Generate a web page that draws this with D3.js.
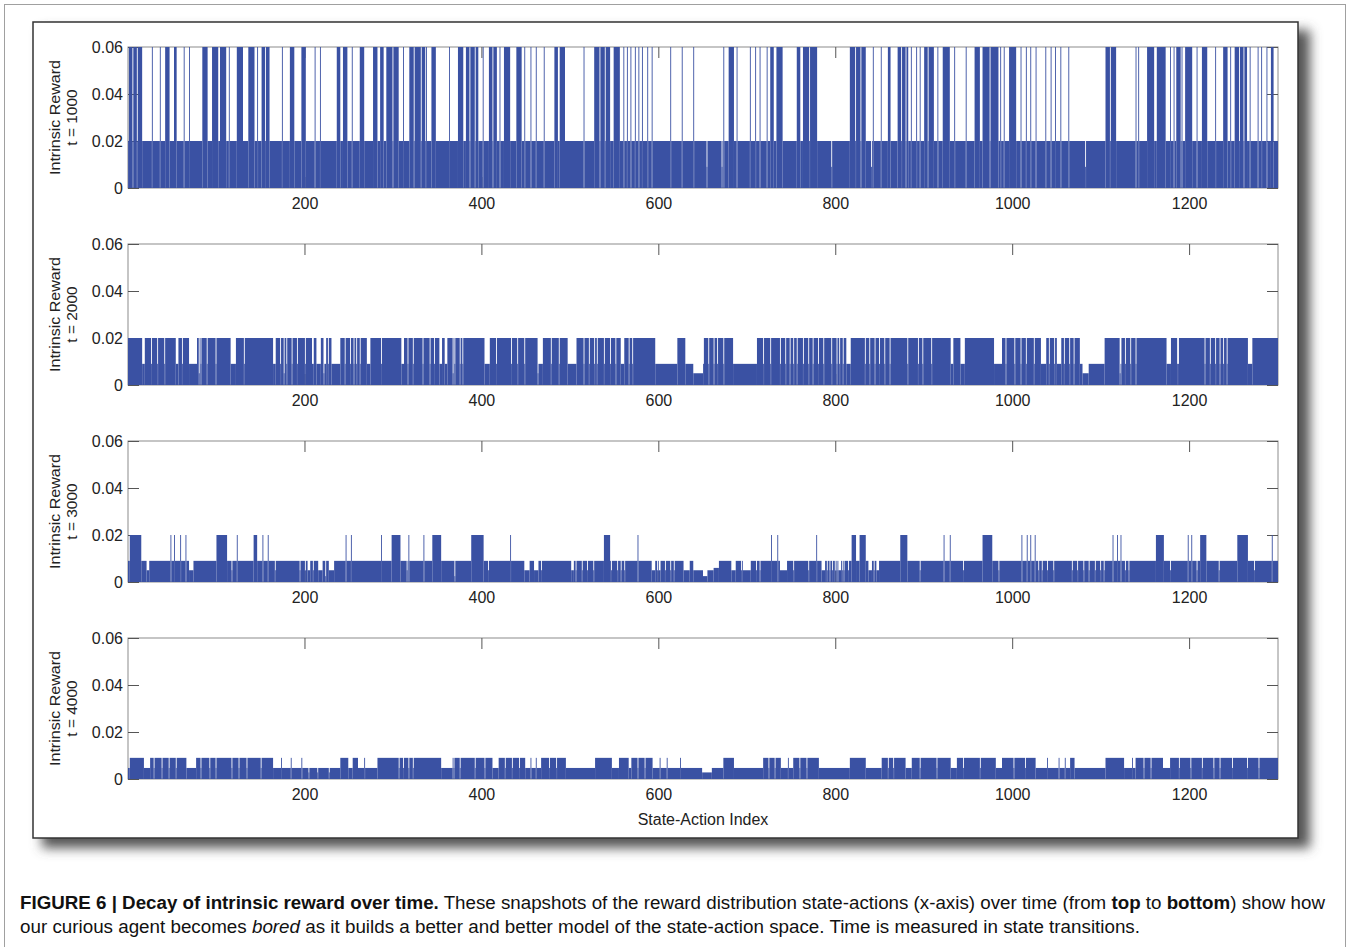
<!DOCTYPE html>
<html>
<head>
<meta charset="utf-8">
<script src="https://cdn.jsdelivr.net/npm/d3@7"></script>
<style>
  body { margin: 0; background: #fff; }
  svg { display: block; font-family: "Liberation Sans", Arial, Helvetica, sans-serif; }
</style>
</head>
<body>
<svg id="fig" width="1350" height="947"></svg>
<script>
// Number of state-action pairs on the x-axis
const N = 1300;
const xTicks = [200, 400, 600, 800, 1000, 1200];
const yTicks = [0, 0.02, 0.04, 0.06];
const panelTimes = [1000, 2000, 3000, 4000];

// Values. Each list holds state-action indices
// (single index or [from, to]) that sit at the given level.

// t = 1000: most states at 0.02, many spikes to 0.06
const p1Base = 0.02;
const p1High = [[2,5],[7,10],[12,16],28,37,[43,47],[53,55],64,70,[85,90],[96,102],[105,111],115,[124,130],[137,143],147,[152,155],[157,160],175,[184,188],[197,201],212,218,[237,240],[244,248],254,[263,267],[278,282],[286,289],[293,299],[301,306],312,[319,323],[325,331],[333,336],338,[344,348],364,[374,379],[383,386],[388,392],[394,396],402,[409,412],[414,417],421,[426,432],[440,445],449,456,462,471,[483,486],[489,494],516,[528,533],[535,539],[541,545],[550,556],561,565,569,574,578,582,588,593,614,627,640,674,[680,685],689,704,710,715,723,[727,730],[734,740],[757,760],[764,770],[772,779],[817,822],[824,828],[830,834],843,852,[860,862],[871,874],[876,879],[881,882],886,892,896,[901,904],[906,911],916,[922,929],935,948,[958,963],[967,974],[976,984],987,991,[997,1004],1010,1016,1021,1027,1038,1044,1049,1055,1064,[1106,1110],[1112,1117],1140,1143,[1153,1160],[1164,1173],1179,1183,[1186,1190],1192,[1196,1203],1209,[1215,1220],1230,[1239,1243],1247,[1252,1256],[1258,1261],[1263,1265],1269,1278,1282,1288,[1293,1295]];
const p1Dips = [655, 672, 796, 841, 1083];

// t = 2000: mostly 0.02, gaps down to ~0.009
const p2Base = 0.02;
const p2Gaps = [[17,19],27,34,42,[55,57],62,[70,78],83,90,100,[117,122],132,[165,167],173,180,186,192,201,[209,210],[214,218],[222,224],227,[231,240],246,252,256,259,263,[271,274],287,[310,312],317,323,334,342,347,[353,355],[359,361],370,376,379,[404,409],417,434,441,449,[464,469],479,488,[498,507],516,522,528,531,539,546,552,[558,561],567,571,[597,621],[631,651],657,663,667,674,[685,711],719,727,738,744,749,753,757,764,770,775,781,787,796,802,805,809,[813,817],834,839,845,850,856,862,882,894,899,909,[931,933],[942,946],[980,988],993,1003,1010,1016,1025,[1033,1038],1042,1048,[1051,1055],1059,1065,1070,[1077,1104],1123,1128,1134,1140,[1175,1179],[1187,1188],1218,1224,1230,1235,1239,1243,[1267,1271]];
const p2Dips = [81, 177, 222, 368, 464, [640,650], [1080,1086], 1122];

// t = 3000: mostly ~0.009, a few spikes to 0.02, dips to ~0.005
const p3Base = 0.009;
const p3Spikes = [[3,15],49,53,60,66,[101,112],124,[143,146],153,159,247,253,287,[299,308],318,335,[345,354],[389,402],433,[539,545],577,728,735,779,[819,823],[828,834],[874,881],923,930,[967,977],1011,1017,1021,1026,1114,1119,1123,[1163,1171],1199,1203,[1213,1219],[1255,1266],1294];
const p3Dips = [[22,24],[70,74],118,167,195,201,[204,206],210,[216,220],[228,233],316,408,[449,454],[460,464],468,[502,504],507,514,520,527,547,554,558,562,[593,596],599,[601,602],608,614,618,[629,635],[640,650],[656,662],[683,687],694,[696,704],711,715,[738,745],753,770,[785,788],791,794,797,800,802,[804,806],808,810,815,[838,841],844,[847,849],896,945,985,1030,1034,1040,1047,1068,1074,1081,1087,1094,1100,1104,1128,1132,1179,1209,1234,1274];
const p3Deep = [224, 370, [651,655]];
const p3Mid = [[663,668]];

// t = 4000: alternating ~0.009 blocks and ~0.0047 stretches
const p4Base = 0.0047;
const p4High = [[3,18],[26,66],[78,164],174,185,197,[241,249],[255,260],268,[283,306],[308,322],[324,354],368,[370,412],[420,449],456,462,[468,495],[529,547],[556,566],[570,593],602,610,625,[674,685],[719,738],747,[753,781],[817,834],[853,879],[887,930],[938,981],[989,1026],1040,1053,1060,[1066,1070],[1106,1126],1136,[1140,1170],[1179,1234],[1236,1300]];
const p4Gaps = [30,39,47,55,83,93,100,118,126,135,151,312,318,376,393,404,427,435,443,477,485,577,585,725,732,760,768,860,866,896,915,945,964,1002,1015,1149,1157,1189,1202,1215,1228,1249,1266,1279];
const p4Deep = [205, 215, 228, [650,660]];

function buildSeries(base, layers) {
  const v = new Array(N).fill(base);
  layers.forEach(([level, list]) => {
    list.forEach((e) => {
      const [a, b] = Array.isArray(e) ? e : [e, e];
      for (let i = a; i <= b; i++) if (i >= 1 && i <= N) v[i - 1] = level;
    });
  });
  return v;
}

const series = [
  buildSeries(p1Base, [[0.06, p1High], [0.009, p1Dips]]),
  buildSeries(p2Base, [[0.009, p2Gaps], [0.005, p2Dips]]),
  buildSeries(p3Base, [[0.02, p3Spikes], [0.005, p3Dips], [0.0025, p3Deep], [0.006, p3Mid]]),
  buildSeries(p4Base, [[0.009, p4High], [p4Base, p4Gaps], [0.0028, p4Deep]]),
];

// merge neighbouring equal values into one bar run
function toRuns(values) {
  const runs = [];
  values.forEach((v, i) => {
    const last = runs[runs.length - 1];
    if (last && last.v === v && last.end === i) last.end = i + 1;
    else runs.push({ start: i + 1, end: i + 1, v: v });
  });
  return runs;
}

const svg = d3.select("#fig");
const plotLeft = 128, plotRight = 1278;
const panelTop = 47, panelH = 141, panelStep = 197;
const barColor = "#3a51a3";
const tickFont = "16px";

// outer border of the page
svg.append("rect")
  .attr("x", 4.5).attr("y", 4.5).attr("width", 1341).attr("height", 960)
  .attr("fill", "none").attr("stroke", "#a0a0a0");

// figure box with drop shadow
const defs = svg.append("defs");
defs.append("filter").attr("id", "blur")
  .attr("x", "-5%").attr("y", "-5%").attr("width", "115%").attr("height", "115%")
  .append("feGaussianBlur").attr("stdDeviation", 6);

svg.append("rect")
  .attr("x", 42).attr("y", 30).attr("width", 1268).attr("height", 818)
  .attr("fill", "#555").attr("filter", "url(#blur)");
svg.append("rect")
  .attr("x", 33).attr("y", 22).attr("width", 1265).attr("height", 816)
  .attr("fill", "#fff").attr("stroke", "#333").attr("stroke-width", 1.5);

const x = d3.scaleLinear().domain([0.5, N + 0.5]).range([plotLeft, plotRight]);

series.forEach((values, k) => {
  const top = panelTop + k * panelStep;
  const y = d3.scaleLinear().domain([0, 0.06]).range([top + panelH, top]);
  const g = svg.append("g");

  // frame
  g.append("rect")
    .attr("x", plotLeft).attr("y", top)
    .attr("width", plotRight - plotLeft).attr("height", panelH)
    .attr("fill", "none").attr("stroke", "#8c8c8c").attr("stroke-width", 1);

  // axes (inside ticks, MATLAB style)
  const left = g.append("g").attr("transform", `translate(${plotLeft},0)`)
    .call(d3.axisLeft(y).tickValues(yTicks).tickSize(-11).tickPadding(5)
      .tickFormat((d) => (d === 0 ? "0" : d.toFixed(2))));
  const right = g.append("g").attr("transform", `translate(${plotRight},0)`)
    .call(d3.axisRight(y).tickValues(yTicks).tickSize(-11).tickFormat(""));
  const topAx = g.append("g").attr("transform", `translate(0,${top})`)
    .call(d3.axisTop(x).tickValues(xTicks).tickSize(-11).tickFormat(""));
  const bottom = g.append("g").attr("transform", `translate(0,${top + panelH})`)
    .call(d3.axisBottom(x).tickValues(xTicks).tickSize(-11).tickPadding(10)
      .tickFormat(d3.format("d")));

  [left, right, topAx, bottom].forEach((a) => {
    a.select(".domain").remove();
    a.selectAll("line").attr("stroke", "#555");
    a.selectAll("text").attr("fill", "#222").style("font-size", tickFont)
      .style("font-family", '"Liberation Sans", Arial, sans-serif');
  });

  // bars
  g.append("g").selectAll("rect")
    .data(toRuns(values))
    .enter()
    .append("rect")
    .attr("x", (d) => x(d.start - 0.5))
    .attr("width", (d) => x(d.end + 0.5) - x(d.start - 0.5))
    .attr("y", (d) => y(d.v))
    .attr("height", (d) => y(0) - y(d.v))
    .attr("fill", barColor);

  // y label
  const cy = top + panelH / 2;
  const lab = g.append("text")
    .attr("transform", `translate(60,${cy}) rotate(-90)`)
    .attr("text-anchor", "middle")
    .style("font-size", "15.5px").attr("fill", "#222");
  lab.append("tspan").attr("x", 0).attr("y", 0)
    .attr("textLength", 115).attr("lengthAdjust", "spacingAndGlyphs")
    .text("Intrinsic Reward");
  lab.append("tspan").attr("x", 0).attr("y", 17).text(`t = ${panelTimes[k]}`);
});

svg.append("text")
  .attr("x", 703).attr("y", 825)
  .attr("text-anchor", "middle")
  .style("font-size", "16px").attr("fill", "#222")
  .text("State-Action Index");

// caption
const cap1 = svg.append("text").attr("x", 20).attr("y", 909)
  .attr("textLength", 1305).attr("lengthAdjust", "spacingAndGlyphs")
  .style("font-size", "17.5px").attr("fill", "#111");
cap1.append("tspan").style("font-weight", "bold").text("FIGURE 6 | Decay of intrinsic reward over time.");
cap1.append("tspan").text(" These snapshots of the reward distribution state-actions (x-axis) over time (from ");
cap1.append("tspan").style("font-weight", "bold").text("top");
cap1.append("tspan").text(" to ");
cap1.append("tspan").style("font-weight", "bold").text("bottom");
cap1.append("tspan").text(") show how");

const cap2 = svg.append("text").attr("x", 20).attr("y", 933)
  .attr("textLength", 1120).attr("lengthAdjust", "spacingAndGlyphs")
  .style("font-size", "17.5px").attr("fill", "#111");
cap2.append("tspan").text("our curious agent becomes ");
cap2.append("tspan").style("font-style", "italic").text("bored");
cap2.append("tspan").text(" as it builds a better and better model of the state-action space. Time is measured in state transitions.");
</script>
</body>
</html>
